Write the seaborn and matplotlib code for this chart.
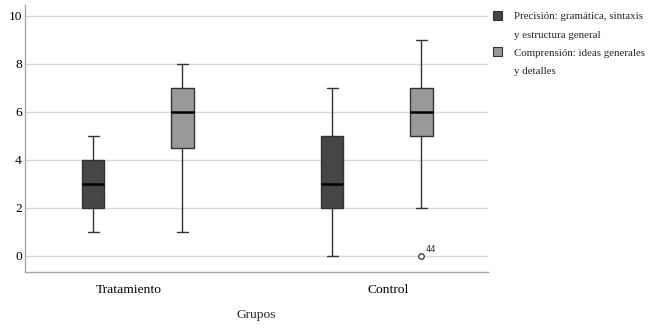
import numpy as np
import pandas as pd
import seaborn as sns
import matplotlib
matplotlib.use("Agg")
import matplotlib.pyplot as plt
import matplotlib.transforms as mtransforms
from matplotlib.patches import Patch

# ---- data ----
groups = ["Tratamiento", "Control"]
series = ["Precisión: gramática, sintaxis\ny estructura general",
          "Comprensión: ideas generales\ny detalles"]
trat_prec = [1, 2, 3, 4, 5]
trat_comp = [1, 4, 5, 6, 7, 7, 8]
ctrl_prec = [0, 2, 3, 5, 7]
ctrl_comp = [0, 2, 5, 5, 6, 6, 7, 8, 9]
outlier_label = "44"
yticks = [0, 2, 4, 6, 8, 10]
colors = ["#464646", "#999999"]

rows = []
for g, s, vals in [(groups[0], series[0], trat_prec), (groups[0], series[1], trat_comp),
                   (groups[1], series[0], ctrl_prec), (groups[1], series[1], ctrl_comp)]:
    for v in vals:
        rows.append({"Grupos": g, "Serie": s, "Valor": v})
df = pd.DataFrame(rows)

sns.set_style("white")
plt.rcParams["font.family"] = ["Liberation Serif", "DejaVu Serif"]

fig = plt.figure(figsize=(6.53, 3.30), dpi=100)
ax = fig.add_axes([0.038, 0.176, 0.709, 0.809])

sns.boxplot(data=df, x="Grupos", y="Valor", hue="Serie", order=groups, hue_order=series,
            palette=colors, width=0.745, gap=0.75, linewidth=1.0, linecolor="#333333",
            medianprops=dict(color="black", linewidth=1.8),
            flierprops=dict(marker="o", markersize=4, markerfacecolor="white",
                            markeredgecolor="#333333", markeredgewidth=0.9),
            legend=False, ax=ax)

# outlier label
for ln in ax.lines:
    xd, yd = ln.get_xdata(), ln.get_ydata()
    if ln.get_marker() == "o" and len(xd) > 0:
        ax.annotate(outlier_label, (xd[0], yd[0]), xytext=(3, 3), textcoords="offset points",
                    fontsize=6, family="DejaVu Sans", color="#333333")

ax.set_xlim(-0.473, 1.464)
ax.set_ylim(-0.67, 10.46)
ax.set_yticks(yticks)
ax.yaxis.grid(True, color="#d8d8d8", linewidth=1)
ax.set_axisbelow(True)
for sp in ["top", "right"]:
    ax.spines[sp].set_visible(False)
for sp in ["left", "bottom"]:
    ax.spines[sp].set_color("#a8a8a8")
    ax.spines[sp].set_linewidth(1)
ax.tick_params(axis="both", length=0, labelsize=9.7, colors="black")
ax.tick_params(axis="x", pad=9)
ax.tick_params(axis="y", pad=2)
ax.set_ylabel("")
ax.set_xlabel("Grupos", fontsize=9.7, labelpad=9)

# small horizontal shifts of the category labels (as in the original layout)
for lbl, dx in zip(ax.get_xticklabels(), [-9, 11]):
    lbl.set_transform(lbl.get_transform() +
                      mtransforms.ScaledTranslation(dx / 100, 0, fig.dpi_scale_trans))

# legend: swatch aligned with first line of each two-line label
handles, labels = [], []
for s, c in zip(series, colors):
    first, second = s.split("\n")
    handles.append(Patch(facecolor=c, edgecolor="#333333", linewidth=0.8))
    labels.append(first)
    handles.append(Patch(facecolor="none", edgecolor="none"))
    labels.append(second)
ax.legend(handles, labels, loc="upper left", bbox_to_anchor=(0.987, 1.017), frameon=False,
          fontsize=7.8, handlelength=0.9, handleheight=0.9, handletextpad=1.1,
          labelspacing=0.72, borderaxespad=0.6)

fig.savefig("out.png", dpi=100)
